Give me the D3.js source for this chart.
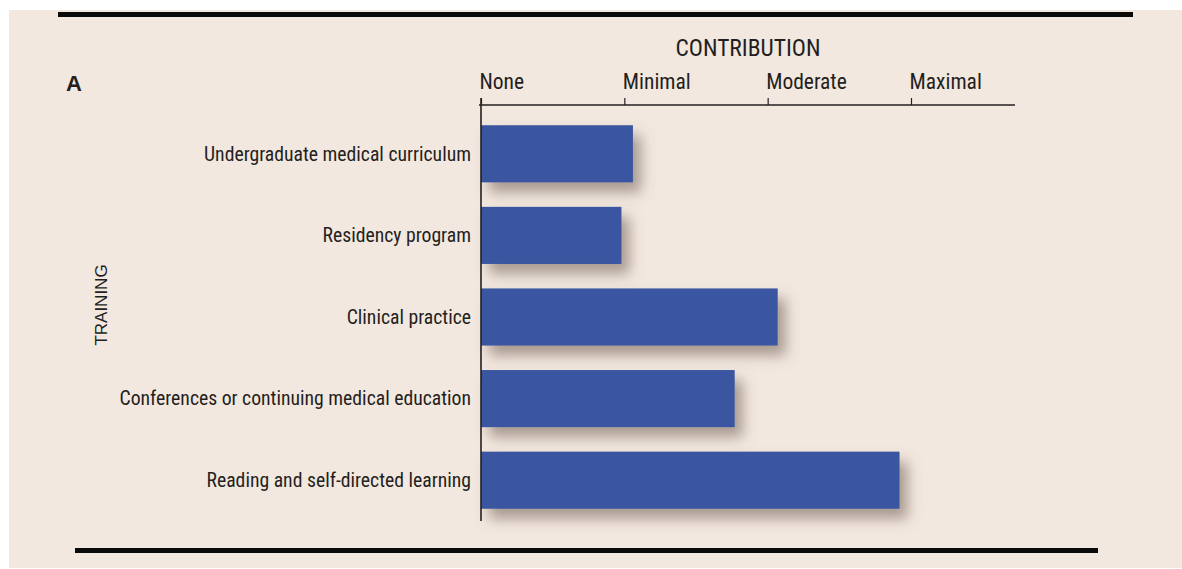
<!DOCTYPE html>
<html>
<head>
<meta charset="utf-8">
<script src="https://cdn.jsdelivr.net/npm/d3@7"></script>
<style>
  html, body { margin: 0; padding: 0; background: #fff; }
  svg { display: block; }
  text { font-family: "Liberation Sans Narrow", "Roboto Condensed", "Open Sans", sans-serif; fill: #231f20; }
</style>
</head>
<body>
<div class="canvas"></div>
<script>
// categories, top to bottom
const categories = [
    'Undergraduate medical curriculum',
    'Residency program',
    'Clinical practice',
    'Conferences or continuing medical education',
    'Reading and self-directed learning'
];
// contribution score (0 = none, 3 = maximal)
const values = [1.06, 0.98, 2.07, 1.77, 2.92];
const tickLabels = ['None', 'Minimal', 'Moderate', 'Maximal'];

const W = 1182, H = 569;
const svg = d3.select('.canvas')
    .append('svg')
    .attr('width', W)
    .attr('height', H);

// drop shadow for bars
const defs = svg.append('defs');
const f = defs.append('filter').attr('id', 'shadow')
    .attr('x', '-10%').attr('y', '-30%').attr('width', '130%').attr('height', '200%');
f.append('feDropShadow')
    .attr('dx', 8).attr('dy', 10)
    .attr('stdDeviation', 7)
    .attr('flood-color', '#6b5a50')
    .attr('flood-opacity', 0.55);

// panel background
svg.append('rect')
    .attr('x', 9).attr('y', 10)
    .attr('width', W - 9).attr('height', 558)
    .attr('fill', '#f3e8df');

// rules top and bottom
svg.append('rect').attr('x', 58).attr('y', 12).attr('width', 1075).attr('height', 5).attr('fill', '#0a0a0a');
svg.append('rect').attr('x', 75).attr('y', 548).attr('width', 1023).attr('height', 5).attr('fill', '#0a0a0a');

const x0 = 481, axisY = 105;

const x = d3.scaleLinear()
    .domain([0, 3])
    .range([x0, x0 + 430]);

const y = d3.scaleBand()
    .domain(categories)
    .range([113, 521])
    .paddingInner(0.3)
    .paddingOuter(0.15);

// bars
svg.append('g').selectAll('rect')
    .data(categories)
    .enter()
    .append('rect')
    .attr('x', x(0))
    .attr('y', d => y(d))
    .attr('width', (d, i) => x(values[i]) - x(0))
    .attr('height', y.bandwidth())
    .attr('fill', '#3a57a0')
    .attr('filter', 'url(#shadow)');

// top axis
const xAxis = d3.axisTop(x)
    .tickValues(d3.range(tickLabels.length))
    .tickFormat(i => tickLabels[i])
    .tickSize(7)
    .tickSizeOuter(0);

const xAxisGroup = svg.append('g')
    .attr('transform', `translate(0, ${axisY})`)
    .call(xAxis);
xAxisGroup.select('.domain').remove();
xAxisGroup.selectAll('.tick line').attr('stroke', '#231f20').attr('stroke-width', 1.2);
xAxisGroup.selectAll('.tick text')
    .attr('text-anchor', 'start')
    .attr('x', -2)
    .attr('y', -16)
    .attr('font-size', 21.5)
    .attr('fill', '#231f20')
    .style('font-family', '"Liberation Sans Narrow", "Roboto Condensed", sans-serif');

// axis lines
svg.append('line')
    .attr('x1', x0 - 2).attr('x2', 1015)
    .attr('y1', axisY).attr('y2', axisY)
    .attr('stroke', '#231f20').attr('stroke-width', 1.4);
svg.append('line')
    .attr('x1', x0).attr('x2', x0)
    .attr('y1', axisY - 7).attr('y2', 521)
    .attr('stroke', '#231f20').attr('stroke-width', 1.6);

// category labels
svg.append('g').selectAll('text')
    .data(categories)
    .enter()
    .append('text')
    .attr('x', 471)
    .attr('y', d => y(d) + y.bandwidth() / 2)
    .attr('dy', '0.35em')
    .attr('text-anchor', 'end')
    .attr('font-size', 19.7)
    .text(d => d);

// titles
svg.append('text')
    .attr('x', 748).attr('y', 56)
    .attr('text-anchor', 'middle')
    .attr('font-size', 23.5)
    .text('CONTRIBUTION');

svg.append('text')
    .attr('x', 66).attr('y', 91)
    .attr('font-size', 22)
    .attr('font-weight', 'bold')
    .style('font-family', '"Liberation Sans", Arial, sans-serif')
    .text('A');

svg.append('text')
    .attr('transform', 'translate(107, 305) rotate(-90)')
    .attr('text-anchor', 'middle')
    .attr('font-size', 17)
    .style('font-family', '"Liberation Sans", Arial, sans-serif')
    .text('TRAINING');
</script>
</body>
</html>
